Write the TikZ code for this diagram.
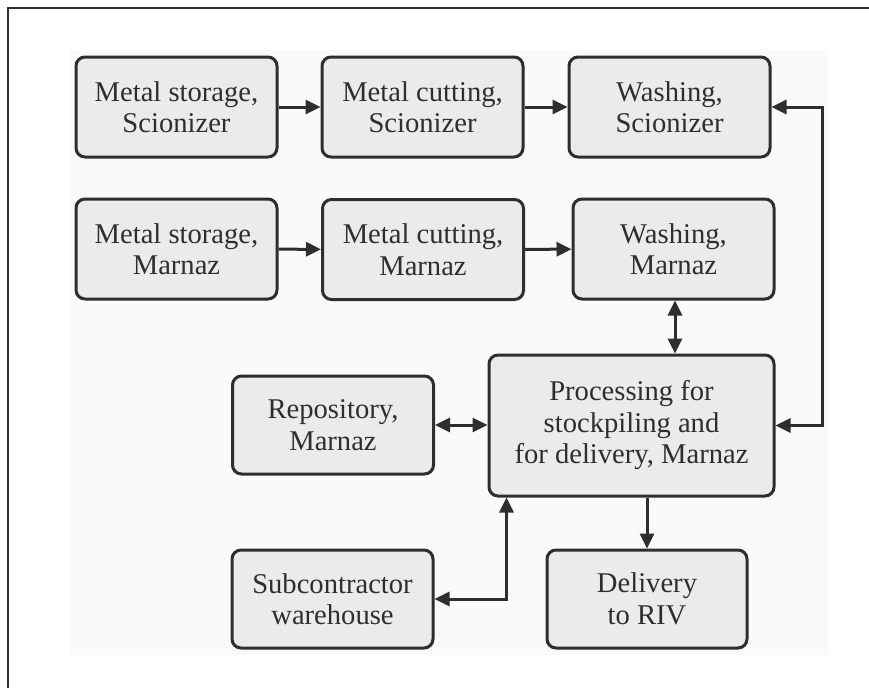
\documentclass[tikz,border=0pt]{standalone}
\usepackage{fontspec}
\setmainfont{Liberation Serif}
\usepackage{tikz}
\usetikzlibrary{arrows.meta,backgrounds}

\definecolor{boxfill}{HTML}{EBEBEC}
\definecolor{ink}{HTML}{2E2E2E}
\definecolor{paper}{HTML}{FAFAFA}

\begin{document}
\begin{tikzpicture}[x=1pt,y=-1pt,
    blok/.style={draw=ink, line width=3pt, fill=boxfill, rounded corners=9pt,
      minimum width=201pt, minimum height=100pt, align=center, text=ink,
      font=\fontsize{28.6}{31.5}\selectfont, inner sep=0pt},
    pijl/.style={draw=ink, line width=3pt, -{Triangle[length=15pt,width=14pt]}},
    dpijl/.style={draw=ink, line width=3pt, {Triangle[length=15pt,width=14pt]}-{Triangle[length=15pt,width=14pt]}}]
      \useasboundingbox (0,0) rectangle (869,688);
      \fill[paper] (70,50) rectangle (828,655);
      \draw[ink, line width=1.8pt] (869,8) -- (8,8) -- (8,688);
      \node[name=s1, blok] at (176.5,107){Metal storage,\\Scionizer};
      \node[name=s2, blok] at (422.5,107){Metal cutting,\\Scionizer};
      \node[name=s3, blok] at (669.5,107){Washing,\\Scionizer};
      \node[name=m1, blok] at (176.5,249){Metal storage,\\Marnaz};
      \node[name=m2, blok] at (423,249.5){Metal cutting,\\Marnaz};
      \node[name=m3, blok] at (673.5,249){Washing,\\Marnaz};
      \node[name=proc, blok, minimum width=285pt, minimum height=141pt] at (631.5,425.5){Processing for\\stockpiling and\\for delivery, Marnaz};
      \node[name=repo, blok, minimum height=98pt] at (333,425){Repository,\\Marnaz};
      \node[name=sub, blok, minimum height=98pt] at (332.5,599){Subcontractor\\warehouse};
      \node[name=riv, blok, minimum width=200pt, minimum height=98pt] at (647,599){Delivery\\to RIV};
      \draw[pijl] (s1) -- (s2);
      \draw[pijl] (s2) -- (s3);
      \draw[pijl] (m1) -- (m2);
      \draw[pijl] (m2) -- (m3);
      \draw[dpijl] ([xshift=1.5pt]m3.south) -- ([xshift=1.5pt]m3.south |- proc.north);
      \draw[dpijl] (s3.east) -- ++(51,0) |- (proc.east);
      \draw[dpijl] (repo.east) -- (repo.east -| proc.west);
      \draw[pijl] (riv.north |- proc.south) -- (riv.north);
      \draw[dpijl] (sub.east) -| ([xshift=19pt]proc.south west);
   \end{tikzpicture}
\end{document}
